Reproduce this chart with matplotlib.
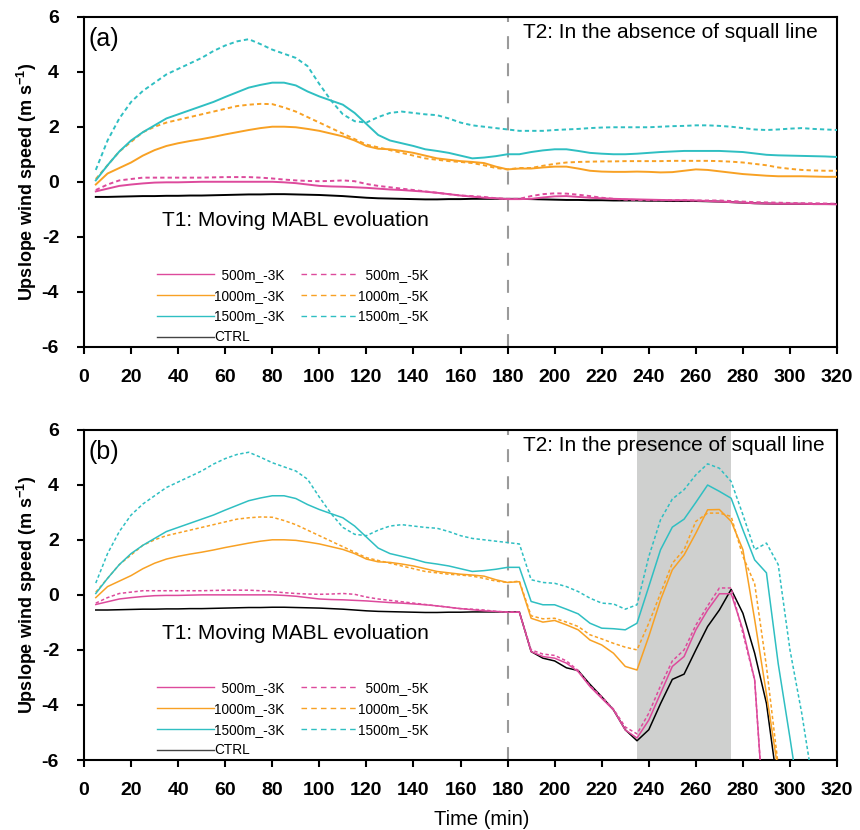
import numpy as np
import matplotlib
matplotlib.use("Agg")
import matplotlib.pyplot as plt
from matplotlib.lines import Line2D

plt.rcParams['font.family'] = ['Liberation Sans', 'DejaVu Sans']
plt.rcParams['mathtext.fontset'] = 'custom'
plt.rcParams['mathtext.rm'] = 'Liberation Sans'
plt.rcParams['mathtext.bf'] = 'Liberation Sans:bold'
plt.rcParams['axes.unicode_minus'] = False

PINK = '#dd4a9c'
ORANGE = '#f8a124'
CYAN = '#2fbfc2'
BLACK = '#000000'

# time axis (min), every 5 min
time = np.arange(5, 325, 5)

# shared part, t = 5 ... 185
c5_early = [0.43, 1.5, 2.3, 2.9, 3.3, 3.6, 3.9, 4.1, 4.3, 4.5, 4.75, 4.95, 5.1, 5.18, 5.0, 4.8,
            4.65, 4.5, 4.2, 3.55, 2.95, 2.45, 2.2, 2.15, 2.35, 2.5, 2.55, 2.5, 2.45, 2.42, 2.3,
            2.15, 2.05, 2.0, 1.95, 1.9, 1.85]
c3_early = [0.05, 0.6, 1.1, 1.5, 1.8, 2.05, 2.3, 2.45, 2.6, 2.75, 2.9, 3.08, 3.25, 3.42, 3.52, 3.6,
            3.6, 3.5, 3.28, 3.1, 2.95, 2.8, 2.5, 2.1, 1.7, 1.5, 1.4, 1.3, 1.18, 1.12, 1.05, 0.95,
            0.85, 0.88, 0.93, 1.0, 1.0]
o5_early = [0.1, 0.6, 1.1, 1.45, 1.8, 2.0, 2.15, 2.25, 2.35, 2.45, 2.55, 2.65, 2.75, 2.8, 2.83, 2.82,
            2.7, 2.55, 2.35, 2.15, 1.95, 1.75, 1.55, 1.35, 1.25, 1.15, 1.05, 0.95, 0.85, 0.8, 0.75,
            0.72, 0.68, 0.6, 0.5, 0.45, 0.5]
o3_early = [-0.1, 0.3, 0.5, 0.7, 0.95, 1.15, 1.3, 1.4, 1.48, 1.55, 1.63, 1.72, 1.8, 1.88, 1.95, 2.0,
            2.0, 1.98, 1.92, 1.85, 1.75, 1.65, 1.5, 1.3, 1.2, 1.18, 1.12, 1.05, 0.95, 0.85, 0.8,
            0.75, 0.72, 0.68, 0.55, 0.45, 0.48]
p5_early = [-0.3, -0.1, 0.05, 0.1, 0.15, 0.15, 0.15, 0.15, 0.15, 0.15, 0.16, 0.17, 0.17, 0.17, 0.15,
            0.12, 0.08, 0.05, 0.03, 0.02, 0.03, 0.05, 0.02, -0.08, -0.15, -0.2, -0.25, -0.3, -0.35,
            -0.4, -0.45, -0.5, -0.52, -0.55, -0.6, -0.62, -0.62]
p3_early = [-0.35, -0.25, -0.15, -0.1, -0.06, -0.03, -0.02, -0.02, -0.01, 0.0, 0.0, 0.0, 0.0, 0.0,
            0.0, 0.0, -0.02, -0.05, -0.1, -0.15, -0.17, -0.18, -0.2, -0.22, -0.25, -0.28, -0.3,
            -0.33, -0.36, -0.4, -0.45, -0.5, -0.54, -0.58, -0.6, -0.63, -0.63]
k_early = [-0.55, -0.55, -0.54, -0.53, -0.52, -0.52, -0.51, -0.51, -0.5, -0.5, -0.49, -0.48, -0.47,
           -0.46, -0.46, -0.45, -0.45, -0.46, -0.47, -0.48, -0.5, -0.52, -0.55, -0.58, -0.6, -0.61,
           -0.62, -0.63, -0.64, -0.64, -0.63, -0.63, -0.62, -0.62, -0.62, -0.62, -0.62]

# (a) no squall line, t = 190 ... 320
c5_a = [1.85, 1.85, 1.88, 1.9, 1.92, 1.95, 1.97, 1.98, 1.98, 1.98, 1.98, 2.0, 2.02, 2.03, 2.05, 2.05,
        2.03, 2.0, 1.95, 1.9, 1.88, 1.9, 1.93, 1.95, 1.92, 1.9, 1.88]
c3_a = [1.08, 1.14, 1.18, 1.18, 1.12, 1.05, 1.02, 1.0, 1.0, 1.02, 1.05, 1.08, 1.1, 1.12, 1.12, 1.12,
        1.12, 1.1, 1.08, 1.03, 0.98, 0.96, 0.95, 0.94, 0.93, 0.92, 0.9]
o5_a = [0.5, 0.58, 0.65, 0.7, 0.72, 0.73, 0.74, 0.74, 0.75, 0.75, 0.75, 0.75, 0.76, 0.76, 0.76, 0.76,
        0.75, 0.73, 0.7, 0.65, 0.6, 0.52, 0.47, 0.43, 0.41, 0.4, 0.4]
o3_a = [0.48, 0.52, 0.55, 0.55, 0.48, 0.4, 0.37, 0.36, 0.36, 0.37, 0.36, 0.34, 0.35, 0.4, 0.45, 0.43,
        0.38, 0.33, 0.28, 0.25, 0.22, 0.2, 0.2, 0.2, 0.19, 0.18, 0.18]
p5_a = [-0.52, -0.45, -0.42, -0.43, -0.47, -0.52, -0.58, -0.62, -0.65, -0.66, -0.67, -0.67, -0.67,
        -0.67, -0.68, -0.68, -0.68, -0.7, -0.72, -0.74, -0.75, -0.76, -0.77, -0.78, -0.78, -0.79, -0.8]
p3_a = [-0.62, -0.57, -0.53, -0.52, -0.55, -0.58, -0.6, -0.62, -0.63, -0.64, -0.65, -0.66, -0.67,
        -0.67, -0.68, -0.7, -0.72, -0.74, -0.76, -0.78, -0.79, -0.8, -0.8, -0.8, -0.81, -0.81, -0.82]
k_a = [-0.63, -0.64, -0.65, -0.66, -0.66, -0.67, -0.67, -0.68, -0.68, -0.68, -0.69, -0.69, -0.7,
       -0.7, -0.7, -0.71, -0.72, -0.74, -0.76, -0.78, -0.79, -0.8, -0.8, -0.8, -0.81, -0.81, -0.81]

# (b) with squall line, t = 190 ... 320 (nan once the curve has left the plot)
nan = np.nan
c5_b = [0.55, 0.45, 0.42, 0.3, 0.12, -0.12, -0.3, -0.33, -0.52, -0.36, 1.39, 2.73, 3.48, 3.82, 4.36,
        4.76, 4.6, 4.12, 2.91, 1.64, 1.88, 1.1, -2.0, -4.3, -7.0, nan, nan]
c3_b = [-0.24, -0.36, -0.36, -0.52, -0.69, -1.03, -1.21, -1.23, -1.27, -1.03, 0.3, 1.64, 2.46, 2.75,
        3.36, 3.99, 3.76, 3.51, 2.36, 1.27, 0.8, -2.5, -5.2, -8.0, nan, nan, nan]
o5_b = [-0.76, -0.87, -0.85, -0.99, -1.15, -1.45, -1.6, -1.76, -1.9, -2.0, -1.03, 0.06, 1.15, 1.64,
        2.67, 2.97, 2.97, 2.85, 1.4, 0.4, -2.6, -6.2, nan, nan, nan, nan, nan]
o3_b = [-0.85, -0.99, -0.93, -1.09, -1.27, -1.64, -1.82, -2.12, -2.6, -2.73, -1.51, -0.18, 0.91,
        1.45, 2.24, 3.09, 3.1, 2.67, 1.64, -0.9, -3.6, -6.4, nan, nan, nan, nan, nan]
p5_b = [-2.0, -2.15, -2.2, -2.4, -2.75, -3.3, -3.7, -4.15, -4.8, -5.05, -4.3, -3.3, -2.4, -2.0, -1.1,
        -0.4, 0.25, 0.25, -1.4, -3.1, -9.4, nan, nan, nan, nan, nan, nan]
p3_b = [-2.06, -2.24, -2.3, -2.48, -2.79, -3.33, -3.76, -4.18, -4.91, -5.2, -4.55, -3.58, -2.6, -2.24,
        -1.27, -0.55, 0.04, 0.04, -1.27, -3.09, -9.4, nan, nan, nan, nan, nan, nan]
k_b = [-2.06, -2.3, -2.4, -2.65, -2.75, -3.25, -3.7, -4.18, -4.9, -5.3, -4.9, -3.95, -3.07, -2.88,
       -2.0, -1.15, -0.55, 0.2, -0.67, -2.12, -3.94, -7.1, nan, nan, nan, nan, nan]

labels = ['  500m_-3K', '1000m_-3K', '1500m_-3K', 'CTRL', '  500m_-5K', '1000m_-5K', '1500m_-5K']
panel_tags = ['(a)', '(b)']
t2_texts = ['T2: In the absence of squall line', 'T2: In the presence of squall line']
t1_text = 'T1: Moving MABL evoluation'
yticks = np.arange(-6, 7, 2)
xticks = np.arange(0, 321, 20)

SHORT_DASH = (0, (2.2, 1.6))


def series(early, late):
    return np.array(early + late, dtype=float)


fig = plt.figure(figsize=(8.6, 8.3), dpi=100)
ax_a = fig.add_axes([0.0977, 0.582, 0.8756, 0.398])
ax_b = fig.add_axes([0.0977, 0.0843, 0.8756, 0.398])

panels = [
    (ax_a, [c3_a, o3_a, p3_a, k_a], [c5_a, o5_a, p5_a], 1.4),
    (ax_b, [c3_b, o3_b, p3_b, k_b], [c5_b, o5_b, p5_b], 1.1),
]

for i, (ax, solids, dashed, lw) in enumerate(panels):
    c3, o3, p3, k = solids
    c5, o5, p5 = dashed

    if i == 1:
        ax.axvspan(235, 275, color='#cfd0cf', lw=0, zorder=0)

    ax.axvline(180, color='#9a9a9a', lw=1.5, linestyle=(0, (6.2, 6.8)), zorder=1)

    ax.plot(time, series(k_early, k), color=BLACK, lw=lw, zorder=3)
    ax.plot(time, series(p3_early, p3), color=PINK, lw=lw, zorder=4)
    ax.plot(time, series(p5_early, p5), color=PINK, lw=lw, ls=SHORT_DASH, zorder=4)
    ax.plot(time, series(o3_early, o3), color=ORANGE, lw=lw, zorder=4)
    ax.plot(time, series(o5_early, o5), color=ORANGE, lw=lw, ls=SHORT_DASH, zorder=4)
    ax.plot(time, series(c3_early, c3), color=CYAN, lw=lw, zorder=4)
    ax.plot(time, series(c5_early, c5), color=CYAN, lw=lw, ls=SHORT_DASH, zorder=4)

    ax.set_xlim(0, 320)
    ax.set_ylim(-6, 6)
    ax.set_xticks(xticks)
    ax.set_yticks(yticks)
    ax.tick_params(axis='x', direction='out', length=5, width=1.5, labelsize=14, pad=11,
                   top=False)
    ax.tick_params(axis='y', direction='out', length=5, width=1.5, labelsize=14, pad=13,
                   right=False)
    for lab in ax.get_xticklabels() + ax.get_yticklabels():
        lab.set_fontweight('bold')
    for sp in ax.spines.values():
        sp.set_linewidth(1.5)

    ax.set_ylabel('Upslope wind speed (m s$^\\mathbf{-1}$)', fontsize=13,
                  fontweight='bold', labelpad=2)

    ax.text(2, 4.95, panel_tags[i], fontsize=18, ha='left', va='baseline')
    ax.text(33, -1.6, t1_text, fontsize=15, ha='left', va='baseline')
    ax.text(186.5, 5.22, t2_texts[i], fontsize=15, ha='left', va='baseline')

    handles = [
        Line2D([], [], color=PINK, lw=1.0),
        Line2D([], [], color=ORANGE, lw=1.0),
        Line2D([], [], color=CYAN, lw=1.0),
        Line2D([], [], color='#444444', lw=1.0),
        Line2D([], [], color=PINK, lw=1.0, ls=(0, (4, 3))),
        Line2D([], [], color=ORANGE, lw=1.0, ls=(0, (4, 3))),
        Line2D([], [], color=CYAN, lw=1.0, ls=(0, (4, 3))),
    ]
    ax.legend(handles, labels, ncol=2, loc='lower left', bbox_to_anchor=(0.097, 0.008),
              frameon=False, fontsize=9.8, handlelength=4.2, handletextpad=0.0,
              columnspacing=1.2, labelspacing=0.5, borderpad=0, borderaxespad=0)

ax_b.set_xlabel('Time (min)', fontsize=14.5, x=0.528, labelpad=8)

fig.savefig('out.png', dpi=100)
